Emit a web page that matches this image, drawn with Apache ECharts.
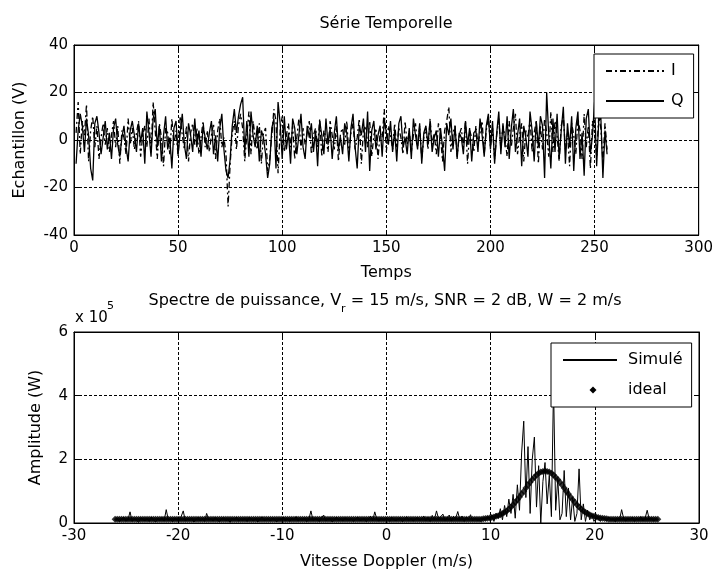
<!DOCTYPE html>
<html><head><meta charset="utf-8">
<script src="https://cdn.jsdelivr.net/npm/echarts@6/dist/echarts.min.js"></script>
<style>html,body{margin:0;padding:0;background:#fff}#c{width:716px;height:574px}</style>
</head><body><div id="c"></div>
<script>
// ---------- DATA ----------
const timeTicks = [0, 50, 100, 150, 200, 250, 300];
const sampleTicks = [-40, -20, 0, 20, 40];
const velocityTicks = [-30, -20, -10, 0, 10, 20, 30];
const amplitudeTicks = [0, 2, 4, 6];   // x 10^5 W

// Time series (samples 1..256)
const sampleI = [
 3,16,-6,8,2,15,-9,4,10,-3,6,-8,1,7,-2,5,
 -5,2,8,-3,6,-10,4,1,-6,9,-2,5,-4,3,8,-7,
 2,6,-3,9,-5,16,4,-8,7,1,-11,5,3,-6,9,-2,
 4,-7,10,2,-4,6,-9,3,7,-2,5,-6,1,8,-3,4,
 -5,2,7,-8,4,9,-3,1,-6,-28,-10,3,8,-4,6,11,
 5,-9,2,12,-6,8,1,-4,7,-10,3,5,-13,-8,2,13,
 8,-14,4,10,-5,2,7,-3,6,-8,1,9,-4,5,-2,3,
 8,-6,2,5,-3,9,-7,4,1,-5,8,2,-4,6,-9,3,
 5,-2,8,-6,3,7,-4,1,9,-10,4,6,-3,8,-7,2,
 5,-8,3,1,13,-5,6,2,-4,7,-3,5,1,-6,8,-2,
 4,-5,2,7,-3,6,-8,1,5,-4,9,-2,3,-6,7,2,
 -9,4,8,14,-5,3,6,-7,2,5,-3,8,-10,4,1,-5,
 6,-2,3,8,-6,4,10,-3,5,-8,2,9,-4,6,1,-7,
 8,-3,5,11,-6,2,7,-9,4,1,9,-5,3,8,-10,6,
 -4,9,3,-7,12,-5,8,2,-9,6,10,-4,3,-11,7,2,
 -6,9,4,-8,11,-3,6,-12,8,3,-7,10,5,-9,7,-4
];
const sampleQ = [
 -10,4,11,6,-5,9,2,-12,-17,7,10,3,-6,1,8,-4,
 3,-8,5,9,-2,-7,1,6,-3,-9,4,8,2,-5,7,-1,
 5,-10,12,3,-7,9,13,-3,6,-9,2,10,-4,1,-12,5,
 8,-6,3,11,-2,-8,7,2,-5,9,-3,4,-7,6,1,-4,
 3,8,-6,2,-9,5,11,-4,-13,-16,-8,6,13,3,10,15,
 18,-5,8,-7,12,2,-3,6,-9,4,1,-6,-16,-10,5,9,
 -12,16,7,-8,10,-4,3,-10,9,5,-6,2,11,-3,-8,6,
 1,7,-5,4,-11,8,2,-6,9,-2,5,-8,3,10,-4,1,
 -6,7,3,-9,5,11,-3,-12,6,2,9,-5,12,-13,4,8,
 -4,2,6,-7,9,3,-2,8,-5,4,-9,7,10,-3,1,-6,
 5,-8,9,2,-4,7,-10,3,6,-2,8,-5,1,4,-7,5,
 -3,-13,7,2,9,-4,6,-8,3,1,-6,8,-2,5,-9,3,
 4,-5,9,2,-7,6,11,-4,8,-10,3,12,-6,7,-3,10,
 -8,5,13,-5,2,9,-11,6,1,-7,12,4,-9,8,-3,10,
 6,-16,20,2,-12,9,-5,11,-8,4,14,-10,7,-3,10,-13,
 5,12,-8,3,-15,9,13,-6,2,16,-11,8,10,-16,4,-6
];

// Doppler spectrum: 256 bins, regular velocity grid
const velocityStart = -26.05;   // m/s, first bin
const velocityStep = 0.2043;    // m/s between bins

// Simulated spectrum (units of 1e5 W)
const spectrumSimule = [
 0.08,0.15,0.04,0.12,0.18,0.06,0.1,0.35,0.05,0.14,0.09,0.02,0.16,0.11,0.07,0.13,
 0.05,0.19,0.1,0.03,0.14,0.08,0.17,0.06,0.42,0.09,0.12,0.04,0.15,0.1,0.07,0.2,
 0.38,0.06,0.13,0.09,0.16,0.03,0.11,0.18,0.07,0.12,0.05,0.3,0.1,0.14,0.06,0.17,
 0.09,0.04,0.13,0.16,0.08,0.11,0.02,0.15,0.1,0.18,0.06,0.12,0.09,0.14,0.05,0.17,
 0.11,0.07,0.15,0.03,0.12,0.19,0.08,0.1,0.14,0.06,0.16,0.09,0.04,0.13,0.11,0.18,
 0.07,0.12,0.05,0.15,0.1,0.2,0.06,0.13,0.09,0.16,0.04,0.11,0.38,0.08,0.14,0.1,
 0.05,0.17,0.25,0.07,0.12,0.15,0.03,0.1,0.18,0.08,0.13,0.06,0.16,0.11,0.09,0.14,
 0.05,0.12,0.19,0.08,0.1,0.15,0.04,0.13,0.22,0.07,0.35,0.11,0.06,0.16,0.09,0.12,
 0.14,0.05,0.18,0.1,0.07,0.13,0.16,0.04,0.11,0.2,0.08,0.15,0.06,0.12,0.17,0.09,
 0.13,0.22,0.07,0.18,0.05,0.24,0.1,0.38,0.12,0.2,0.28,0.08,0.16,0.25,0.06,0.21,
 0.14,0.36,0.09,0.22,0.05,0.18,0.12,0.26,0.07,0.15,
 0.08,
 0.1,0.05,0.15,0.08,0.2,0.1,0.25,0.05,0.3,0.15,
 0.45,0.1,0.55,0.2,0.75,0.3,0.9,0.15,1.2,0.4,
 2.2,3.2,0.8,2.4,0.3,2.0,2.7,0.5,1.8,0.0,
 1.3,1.9,0.6,1.5,0.2,4.3,0.4,1.4,0.1,0.3,
 1.65,0.2,1.1,0.1,0.8,0.05,0.3,1.7,0.1,0.6,
 0.05,0.4,0.1,0.25,0.05,0.15,
 0.14,0.05,0.17,0.11,0.07,0.19,0.1,0.13,0.04,0.16,
 0.09,0.42,0.12,0.06,0.15,0.1,0.18,0.05,0.13,0.09,
 0.2,0.07,0.14,0.4,0.11,0.16,0.06,0.12,0.09
];

// Ideal (theoretical) spectrum (units of 1e5 W)
const spectrumIdeal = [
 0.12,0.12,0.12,0.12,0.12,0.12,0.12,0.12,0.12,0.12,0.12,0.12,0.12,0.12,0.12,0.12,0.12,0.12,0.12,0.12,
 0.12,0.12,0.12,0.12,0.12,0.12,0.12,0.12,0.12,0.12,0.12,0.12,0.12,0.12,0.12,0.12,0.12,0.12,0.12,0.12,
 0.12,0.12,0.12,0.12,0.12,0.12,0.12,0.12,0.12,0.12,0.12,0.12,0.12,0.12,0.12,0.12,0.12,0.12,0.12,0.12,
 0.12,0.12,0.12,0.12,0.12,0.12,0.12,0.12,0.12,0.12,0.12,0.12,0.12,0.12,0.12,0.12,0.12,0.12,0.12,0.12,
 0.12,0.12,0.12,0.12,0.12,0.12,0.12,0.12,0.12,0.12,0.12,0.12,0.12,0.12,0.12,0.12,0.12,0.12,0.12,0.12,
 0.12,0.12,0.12,0.12,0.12,0.12,0.12,0.12,0.12,0.12,0.12,0.12,0.12,0.12,0.12,0.12,0.12,0.12,0.12,0.12,
 0.12,0.12,0.12,0.12,0.12,0.12,0.12,0.12,0.12,0.12,0.12,0.12,0.12,0.12,0.12,0.12,0.12,0.12,0.12,0.12,
 0.12,0.12,0.12,0.12,0.12,0.12,0.12,0.12,0.12,0.12,0.12,0.12,0.12,0.12,0.12,0.12,0.12,0.12,0.12,0.12,
 0.12,0.12,0.12,0.12,0.12,0.12,0.12,0.12,0.12,0.12,0.12,0.12,0.12,
 0.13,0.14,0.15,0.16,0.17,0.19,
 0.21,0.23,0.26,0.30,0.34,0.38,0.44,0.50,0.57,0.65,0.73,0.82,0.91,1.00,1.10,1.19,1.28,1.37,1.44,1.51,1.56,1.60,1.62,
 1.63,
 1.62,1.60,1.56,1.51,1.44,1.37,1.28,1.19,1.10,1.00,0.91,0.82,0.73,0.65,0.57,0.50,0.44,0.38,0.34,0.30,0.26,0.23,0.21,
 0.19,0.17,0.16,0.15,0.14,0.13,
 0.12,0.12,0.12,0.12,0.12,0.12,0.12,0.12,0.12,0.12,0.12,0.12,0.12,0.12,0.12,0.12,0.12,0.12,0.12,0.12,
 0.12,0.12,0.12,0.12
];

// ---------- CHART ----------
const FONT = '"DejaVu Sans", sans-serif';
const chart = echarts.init(document.getElementById('c'), null, {renderer: 'canvas'});

function mainAxis(ticks, extra) {
  return Object.assign({
    type: 'value',
    min: ticks[0], max: ticks[ticks.length - 1], interval: ticks[1] - ticks[0],
    axisLine: {show: true, onZero: false, lineStyle: {color: '#000', width: 1}},
    axisTick: {show: true, inside: true, length: 5, lineStyle: {color: '#000'}},
    axisLabel: {color: '#000', fontSize: 15, fontFamily: FONT, margin: 6},
    splitLine: {show: true, lineStyle: {color: '#000', type: [3, 2], width: 1}},
    nameLocation: 'middle',
    nameTextStyle: {color: '#000', fontSize: 16, fontFamily: FONT}
  }, extra);
}
function mirrorAxis(ticks, extra) {
  return Object.assign({
    type: 'value',
    min: ticks[0], max: ticks[ticks.length - 1], interval: ticks[1] - ticks[0],
    axisLine: {show: true, onZero: false, lineStyle: {color: '#000', width: 1}},
    axisTick: {show: true, inside: true, length: 5, lineStyle: {color: '#000'}},
    axisLabel: {show: false},
    splitLine: {show: false}
  }, extra);
}

const idealIcon = 'path://M0,0M54,14M30,3.5L33.5,7L30,10.5L26.5,7Z';

const option = {
  animation: false,
  backgroundColor: '#fff',
  grid: [
    {left: 74, top: 45, width: 625, height: 190, show: true, borderColor: '#000', borderWidth: 1, backgroundColor: '#fff'},
    {left: 74, top: 332, width: 625, height: 191, show: true, borderColor: '#000', borderWidth: 1, backgroundColor: '#fff'}
  ],
  xAxis: [
    mainAxis(timeTicks, {gridIndex: 0, position: 'bottom', name: 'Temps', nameGap: 30}),
    mirrorAxis(timeTicks, {gridIndex: 0, position: 'top'}),
    mainAxis(velocityTicks, {gridIndex: 1, position: 'bottom', name: 'Vitesse Doppler (m/s)', nameGap: 31}),
    mirrorAxis(velocityTicks, {gridIndex: 1, position: 'top'})
  ],
  yAxis: [
    mainAxis(sampleTicks, {gridIndex: 0, position: 'left', name: 'Echantillon (V)', nameGap: 46}),
    mirrorAxis(sampleTicks, {gridIndex: 0, position: 'right'}),
    mainAxis(amplitudeTicks, {gridIndex: 1, position: 'left', name: 'Amplitude (W)', nameGap: 30}),
    mirrorAxis(amplitudeTicks, {gridIndex: 1, position: 'right'})
  ],
  legend: [
    {
      orient: 'vertical', left: 594, top: 54, padding: [9, 10, 9, 11],
      itemWidth: 58, itemHeight: 14, itemGap: 14,
      backgroundColor: '#fff', borderColor: '#000', borderWidth: 1, borderRadius: 0,
      selectedMode: false, z: 10,
      itemStyle: {opacity: 0},
      textStyle: {color: '#000', fontSize: 16, fontFamily: FONT, lineHeight: 14, padding: [0, 0, 0, 2]},
      data: ['I', 'Q']
    },
    {
      orient: 'vertical', left: 551, top: 343, padding: [9, 9, 9, 11],
      itemWidth: 54, itemHeight: 14, itemGap: 14,
      backgroundColor: '#fff', borderColor: '#000', borderWidth: 1, borderRadius: 0,
      selectedMode: false, z: 10,
      itemStyle: {opacity: 0},
      textStyle: {color: '#000', fontSize: 16, fontFamily: FONT, lineHeight: 14, padding: [0, 0, 0, 6]},
      data: [
        {name: 'Simulé'},
        {name: 'ideal', icon: idealIcon, itemStyle: {color: '#000', opacity: 1}}
      ]
    }
  ],
  graphic: [
    {type: 'text', x: 386, y: 24, style: {text: 'Série Temporelle', fill: '#000', font: '16px ' + FONT, align: 'center', verticalAlign: 'middle'}},
    {type: 'text', x: 385, y: 293, style: {
      text: '{a|Spectre de puissance, V}{s|r}{a| = 15 m/s, SNR = 2 dB, W = 2 m/s}',
      align: 'center', verticalAlign: 'top',
      rich: {
        a: {fontSize: 16, fontFamily: FONT, fill: '#000', color: '#000', lineHeight: 20, verticalAlign: 'top'},
        s: {fontSize: 11, fontFamily: FONT, fill: '#000', color: '#000', lineHeight: 13, padding: [11, 0, 0, 0], verticalAlign: 'top'}
      }
    }},
    {type: 'text', x: 75, y: 318, style: {text: 'x 10', fill: '#000', font: '15px ' + FONT, align: 'left', verticalAlign: 'middle'}},
    {type: 'text', x: 107, y: 306, style: {text: '5', fill: '#000', font: '11px ' + FONT, align: 'left', verticalAlign: 'middle'}}
  ],
  series: [
    {
      name: 'I', type: 'line', xAxisIndex: 0, yAxisIndex: 0,
      data: sampleI.map((v, k) => [k + 1, v]),
      symbol: 'none', itemStyle: {color: '#000'},
      lineStyle: {color: '#000', width: 1.3, type: [6, 3, 2, 3]}
    },
    {
      name: 'Q', type: 'line', xAxisIndex: 0, yAxisIndex: 0,
      data: sampleQ.map((v, k) => [k + 1, v]),
      symbol: 'none', itemStyle: {color: '#000'},
      lineStyle: {color: '#000', width: 1.3, type: 'solid'}
    },
    {
      name: 'Simulé', type: 'line', xAxisIndex: 2, yAxisIndex: 2,
      data: spectrumSimule.map((v, k) => [velocityStart + k * velocityStep, v]),
      symbol: 'none', itemStyle: {color: '#000'},
      lineStyle: {color: '#000', width: 1}
    },
    {
      name: 'ideal', type: 'scatter', xAxisIndex: 2, yAxisIndex: 2,
      data: spectrumIdeal.map((v, k) => [velocityStart + k * velocityStep, v]),
      symbol: 'diamond', symbolSize: 7, itemStyle: {color: '#000'}
    }
  ]
};
chart.setOption(option);
</script>
</body></html>
